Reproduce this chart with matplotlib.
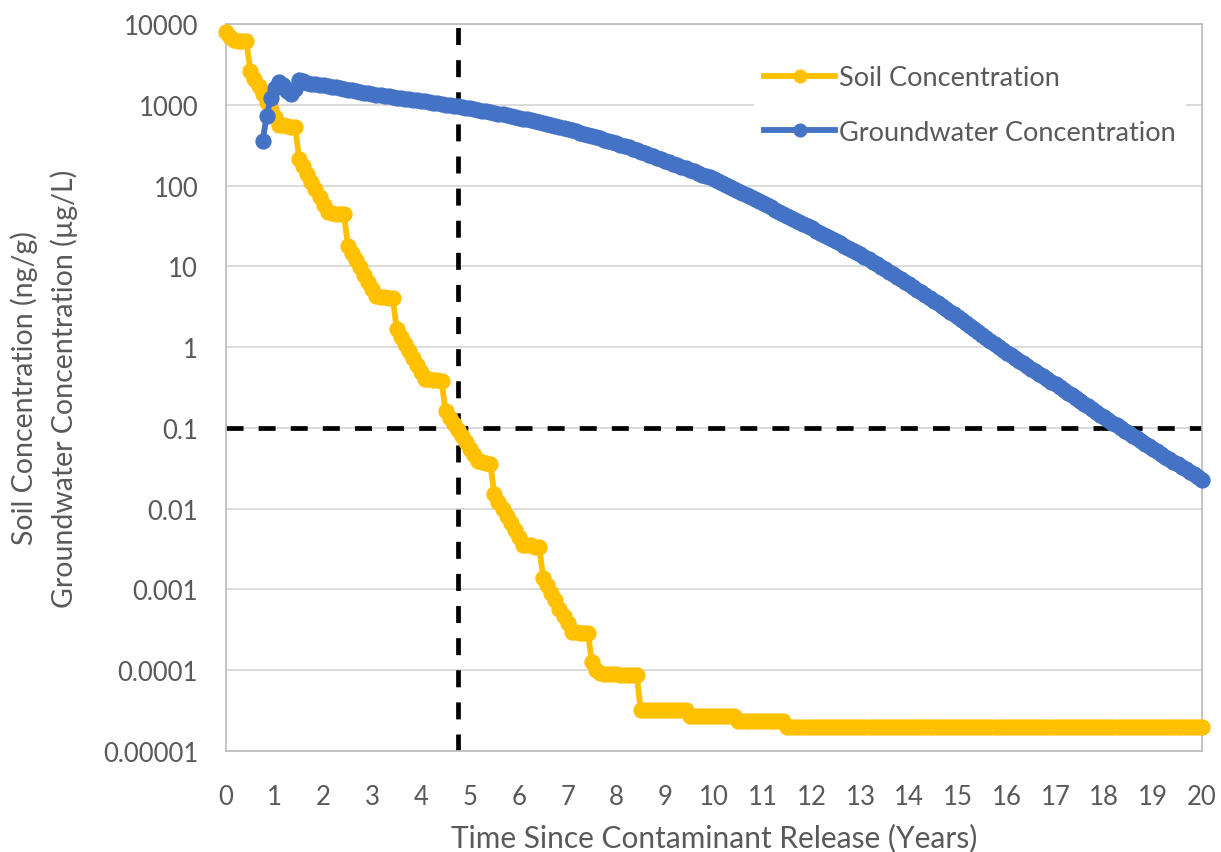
import numpy as np
import matplotlib.pyplot as plt
from matplotlib.ticker import FixedLocator, FixedFormatter, NullLocator

plt.rcParams['font.family'] = ['Lato', 'DejaVu Sans']

# monthly soil concentration (ng/g), months 0..240
soil_conc = (
    [7900, 6900, 6300, 6200, 6150, 6100, 2600, 2100, 1690, 1360, 1090, 880]
    + [700, 565, 555, 545, 535, 525, 215, 173, 139, 112, 90, 72]
    + [58, 47, 46, 45, 44, 44, 18, 14.6, 11.9, 9.7, 7.9, 6.4]
    + [5.2, 4.25, 4.2, 4.15, 4.1, 4.05, 1.66, 1.35, 1.10, 0.90, 0.73, 0.60]
    + [0.49, 0.40, 0.40, 0.39, 0.39, 0.38, 0.16, 0.134, 0.112, 0.094, 0.079, 0.066]
    + [0.055, 0.046, 0.039, 0.038, 0.037, 0.036, 0.015, 0.0122, 0.0099, 0.0081, 0.0066, 0.0054]
    + [0.0044, 0.0036, 0.0035, 0.0035, 0.0034, 0.0034, 0.0014, 0.00112, 0.00090, 0.00073, 0.00058, 0.00047]
    + [0.00038, 0.00030, 0.00030, 0.00029, 0.00029, 0.00029, 0.000125, 0.000100, 0.000092, 0.000090, 0.000090, 0.000090]
    + [0.000089, 0.000088, 0.000088, 0.000087, 0.000087, 0.000087]
    + [3.2e-5] * 12
    + [2.7e-5] * 12
    + [2.35e-5] * 12
    + [2.0e-5] * 103
)

# monthly groundwater concentration (ug/L), months 9..240
gw_conc = (
    [357, 730, 1200, 1600, 1930, 1750, 1500, 1350, 1550, 2000, 1950, 1870, 1820, 1790, 1770]
    + [1758, 1718, 1683, 1644, 1611, 1574, 1542, 1507, 1472, 1442, 1409, 1380]
    + [1349, 1327, 1306, 1288, 1268, 1247, 1227, 1208, 1189, 1172, 1153, 1135]
    + [1117, 1099, 1079, 1062, 1042, 1026, 1007, 991, 973, 957, 940, 925]
    + [908, 887, 869, 849, 830, 813, 794, 776, 760, 743, 726, 711]
    + [695, 676, 658, 641, 624, 607, 590, 574, 558, 545, 530, 515]
    + [501, 484, 469, 453, 439, 424, 410, 396, 383, 371, 358, 347]
    + [335, 321, 308, 296, 284, 272, 261, 251, 241, 231, 222, 213]
    + [204, 195, 187, 179, 171, 164, 157, 150, 144, 137, 131, 126]
    + [120, 114, 107, 101, 95.5, 90.2, 85.1, 80.4, 75.9, 71.6, 67.6, 63.8]
    + [60.3, 56.8, 53.5, 50.5, 47.5, 44.8, 42.2, 39.7, 37.4, 35.3, 33.3, 31.3]
    + [29.5, 27.7, 26.1, 24.5, 23.1, 21.7, 20.4, 19.2, 18.1, 17.0, 16.0, 15.0]
    + [14.1, 13.2, 12.2, 11.4, 10.6, 9.91, 9.23, 8.59, 8.00, 7.46, 6.95, 6.47]
    + [6.03, 5.57, 5.15, 4.76, 4.40, 4.06, 3.76, 3.48, 3.21, 2.97, 2.74, 2.54]
    + [2.34, 2.15, 1.98, 1.82, 1.67, 1.54, 1.41, 1.30, 1.19, 1.10, 1.01, 0.927]
    + [0.851, 0.789, 0.733, 0.680, 0.631, 0.585, 0.543, 0.504, 0.468, 0.434, 0.403, 0.374]
    + [0.347, 0.321, 0.296, 0.274, 0.253, 0.234, 0.216, 0.200, 0.185, 0.171, 0.158, 0.146]
    + [0.135, 0.125, 0.116, 0.108, 0.100, 0.0927, 0.0861, 0.0798, 0.0741, 0.0688, 0.0638, 0.0592]
    + [0.0550, 0.0511, 0.0475, 0.0442, 0.0411, 0.0382, 0.0355, 0.0330, 0.0307, 0.0285, 0.0265, 0.0247]
    + [0.0229]
)

soil_years = np.arange(len(soil_conc)) / 12
gw_years = np.arange(9, 9 + len(gw_conc)) / 12

threshold_conc = 0.1
threshold_year = 4.76

y_ticks = [1e-5, 1e-4, 1e-3, 1e-2, 1e-1, 1, 10, 100, 1000, 10000]
y_labels = ['0.00001', '0.0001', '0.001', '0.01', '0.1', '1', '10', '100', '1000', '10000']
x_ticks = list(range(0, 21))

SOIL = '#FFC000'
GW = '#4472C4'
TXT = '#595959'

fig = plt.figure(figsize=(12.21, 8.53), dpi=100)
ax = fig.add_axes([0.1851, 0.1184, 0.7993, 0.8523])

# threshold guide lines
ax.axhline(threshold_conc, color='black', lw=3.4, ls=(0, (3.6, 3.2)), zorder=2)
ax.axvline(threshold_year, color='black', lw=3.4, ls=(0, (3.6, 3.2)), zorder=2)

ax.plot(soil_years, soil_conc, color=SOIL, lw=4.2, marker='o', ms=10.5,
        mec=SOIL, mew=1.2, label='Soil Concentration', zorder=3, clip_on=False)
ax.plot(gw_years, gw_conc, color=GW, lw=4.2, marker='o', ms=10.5,
        mec=GW, mew=1.2, label='Groundwater Concentration', zorder=4, clip_on=False)

ax.set_yscale('log')
ax.set_ylim(1e-5, 1e4)
ax.set_xlim(0, 20)
ax.yaxis.set_major_locator(FixedLocator(y_ticks))
ax.yaxis.set_major_formatter(FixedFormatter(y_labels))
ax.yaxis.set_minor_locator(NullLocator())
ax.set_xticks(x_ticks)

ax.grid(axis='y', color='#D9D9D9', lw=1.3, zorder=0)
ax.set_axisbelow(True)
for s in ax.spines.values():
    s.set_color('#BFBFBF')
    s.set_linewidth(1.3)

ax.tick_params(axis='both', length=0, labelsize=18.5, labelcolor=TXT)
ax.tick_params(axis='y', pad=20)
ax.tick_params(axis='x', pad=24)

ax.set_xlabel('Time Since Contaminant Release (Years)', fontsize=21.5,
              color=TXT, labelpad=10)
ax.set_ylabel('Soil Concentration (ng/g)\nGroundwater Concentration (µg/L)',
              fontsize=20.5, color=TXT, labelpad=18, linespacing=1.55)

leg = ax.legend(loc='upper right', bbox_to_anchor=(0.998, 0.977), frameon=True,
                fontsize=19.5, handlelength=2.6, labelspacing=1.1,
                borderpad=0.4, handletextpad=0.15, markerscale=0.85)
leg.get_frame().set_facecolor('white')
leg.get_frame().set_edgecolor('none')
leg.get_frame().set_alpha(1)
for t in leg.get_texts():
    t.set_color(TXT)

fig.savefig('out.png', dpi=100)
